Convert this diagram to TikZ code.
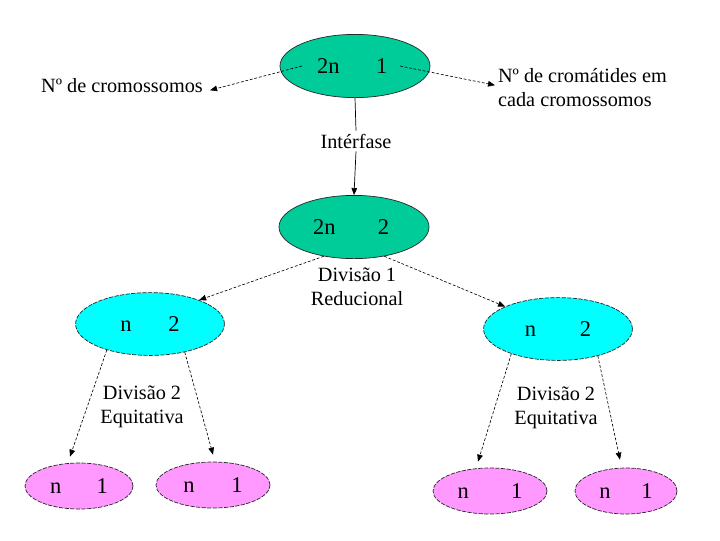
\documentclass[tikz,border=0pt]{standalone}
\usepackage{fontspec}
\setmainfont{Liberation Serif}
\usetikzlibrary{positioning,calc,shapes.geometric,arrows.meta}
\definecolor{cellgreen}{RGB}{0,204,153}
\definecolor{cellcyan}{RGB}{0,255,255}
\definecolor{cellpink}{RGB}{255,153,255}
\newcommand{\valpair}[3][39pt]{\makebox[0pt]{\makebox[#1]{#2}\makebox[#1]{#3}}}

\begin{document}
\begin{tikzpicture}[x=0.025cm,y=-0.025cm,
  txt/.style={font=\fontsize{14.4}{17}\selectfont,inner sep=2pt},
  cell/.style={ellipse,draw=black!85,line width=0.5pt,inner sep=0pt,
    font=\fontsize{16}{18}\selectfont},
  greencell/.style={cell,fill=cellgreen,minimum width=3.75cm,minimum height=1.58cm},
  cyancell/.style={cell,fill=cellcyan,dashed,dash pattern=on 3pt off 1pt,
    minimum width=3.72cm,minimum height=1.57cm},
  pinkcell/.style={cell,fill=cellpink,dash pattern=on 3pt off 1pt,
    minimum height=1.15cm},
  dasharr/.style={-{Triangle[length=5pt,width=4pt]},line width=0.45pt,
    dash pattern=on 2pt off 1.3pt},
  solidarr/.style={-{Triangle[length=5pt,width=4pt]},line width=0.5pt}]
  \useasboundingbox (0,0) rectangle (720,540);

  % cells
  \node[greencell] (top) at (355,66) {\valpair[38pt]{2n}{1}};
  \node[greencell] (mid) at (354,227) {\valpair[42pt]{2n}{2}};
  \node[cyancell] (lcell) at (150,324) {\valpair[34pt]{n}{2}};
  \node[cyancell] (rcell) at (558,329) {\valpair[39pt]{n}{2}};
  \node[pinkcell,minimum width=2.7cm] (la) at (79,486) {\valpair[33pt]{n}{1}};
  \node[pinkcell,minimum width=2.85cm] (lb) at (213,485) {\valpair[34pt]{n}{1}};
  \node[pinkcell,minimum width=2.85cm] (ra) at (490,491) {\valpair[38pt]{n}{1}};
  \node[pinkcell,minimum width=2.55cm] (rb) at (626,491) {\valpair[30pt]{n}{1}};

  % texts
  \node[txt] (nchrom) at (122,86) {Nº de cromossomos};
  \node[txt,anchor=west,align=left] (ncroma) at (495,88)
    {Nº de cromátides em\\cada cromossomos};
  \node[txt] (inter) at (356,141) {Intérfase};
  \node[txt,align=center] (div1) at (357,287) {Divisão 1\\Reducional};
  \node[txt,align=center] (div2l) at (142,407) {Divisão 2\\Equitativa};
  \node[txt,align=center] (div2r) at (556,408) {Divisão 2\\Equitativa};

  \coordinate (topL) at (302,66);
  \coordinate (topR) at (400,66);

  % connectors
  \draw[dasharr] (topL) -- ([xshift=3pt,yshift=-3pt]nchrom.east);
  \draw[dasharr] (topR) -- ([yshift=2pt]ncroma.west);
  \draw[line width=0.5pt] (top.south) -- (inter.north);
  \draw[solidarr] (inter.south) -- (mid.north);
  \draw[dasharr] (mid.224) -- (lcell.26);
  \draw[dasharr] (mid.-44) -- (rcell.157);
  \draw[dasharr] (lcell.211) -- ($(la.north)+(-9,-6)$);
  \draw[dasharr] (lcell.-39) -- ($(lb.north)+(0,-7)$);
  \draw[dasharr] (rcell.208) -- ($(ra.north)+(-12,-6)$);
  \draw[dasharr] (rcell.-34) -- ($(rb.north)+(-6,-8)$);
\end{tikzpicture}
\end{document}
